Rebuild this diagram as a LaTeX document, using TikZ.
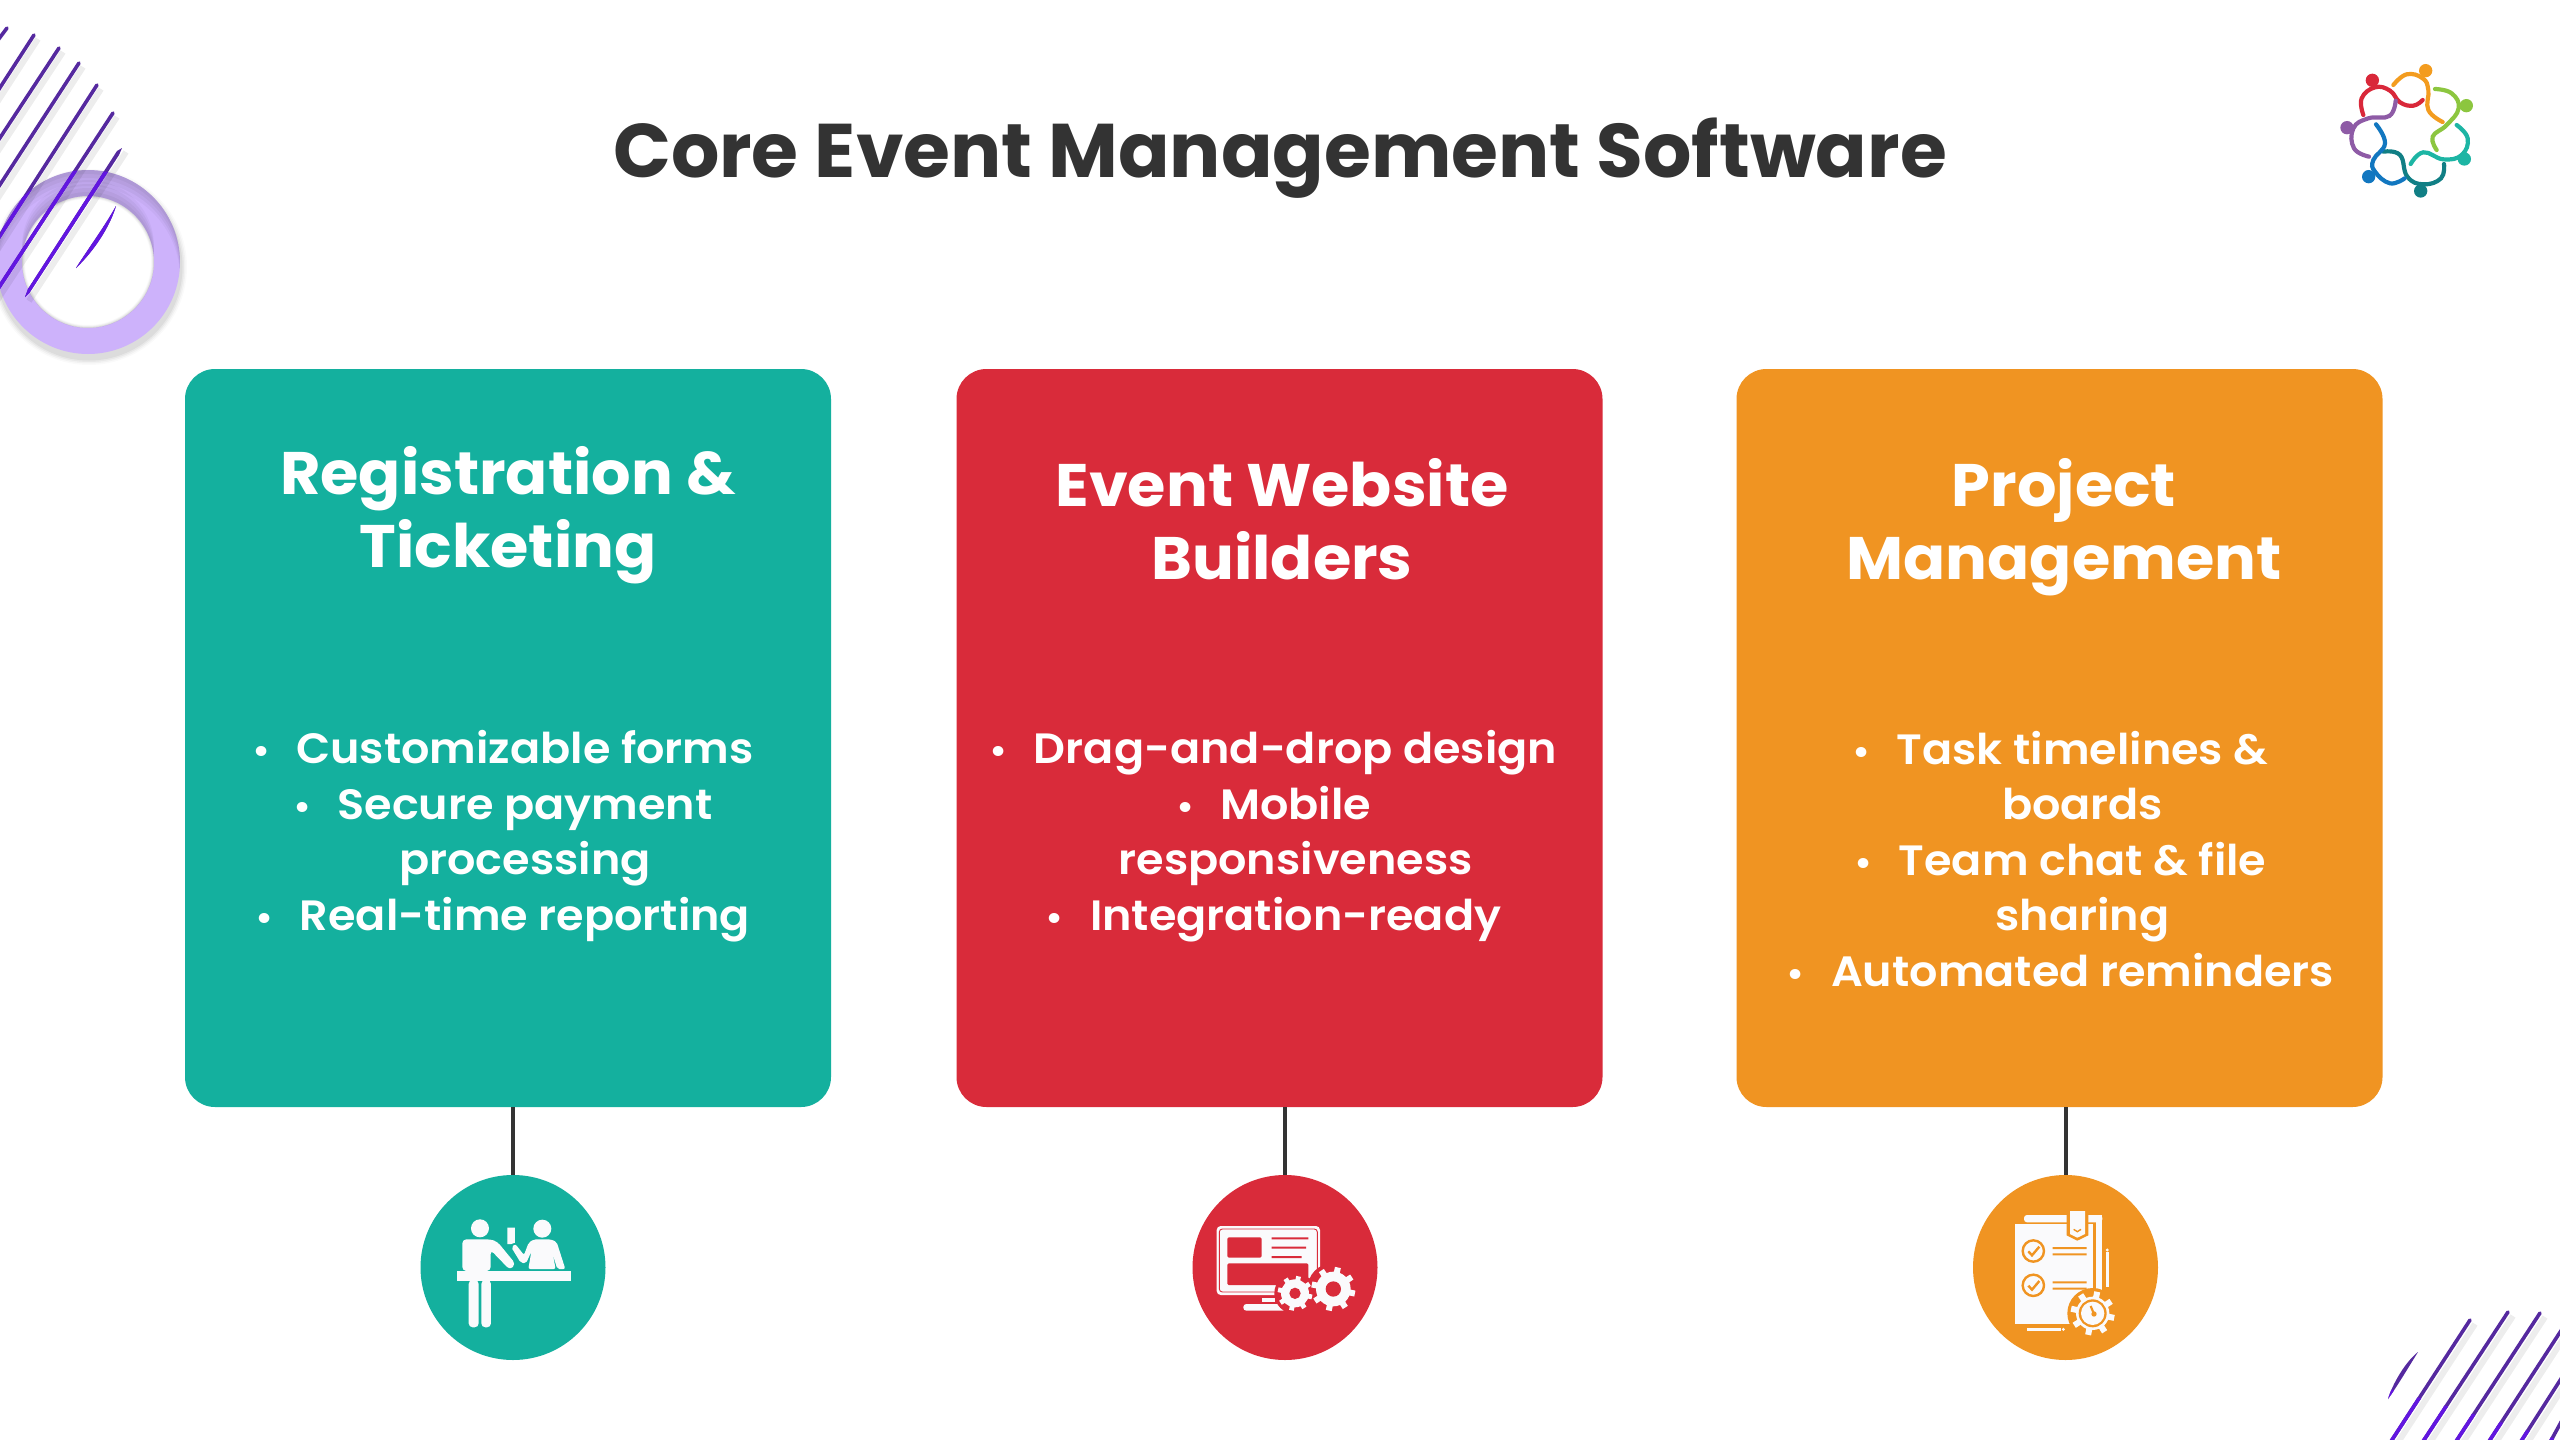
\documentclass[tikz,border=0pt]{standalone}
\usepackage{fontspec}
\setmainfont{Poppins}[FakeStretch=1.035]
\newfontfamily\titlefont{Poppins}
\newfontfamily\bodyfont{Poppins SemiBold}[FakeStretch=1.05]
\usetikzlibrary{calc}
\definecolor{tealc}{HTML}{14B09E}
\definecolor{redc}{HTML}{D92B3A}
\definecolor{orangec}{HTML}{F09422}
\definecolor{inkc}{HTML}{333333}
\definecolor{ringc}{HTML}{CDB2FB}
\definecolor{stripec}{HTML}{55299F}
\definecolor{stripeb}{HTML}{6216E0}
\definecolor{iconw}{HTML}{FAFAFC}
\tikzset{
  cardbox/.style={draw=none,fill=#1,rounded corners=15pt,minimum width=323pt,minimum height=369pt,inner sep=0pt},
  iconball/.style={circle,draw=none,fill=#1,minimum size=92.5pt,inner sep=0pt},
  link/.style={draw=inkc,line width=2pt},
  headtext/.style={text=white,align=center,inner sep=0pt,font=\fontsize{30}{36.7}\selectfont\bfseries},
  bodytext/.style={text=white,align=center,inner sep=0pt,font=\bodyfont\fontsize{21.2}{27.75}\selectfont},
  stripeline/.style={line width=1.8pt,line cap=round},
  stripeshadow/.style={line width=3pt,black,opacity=.07},
  limb/.style={line width=2.1pt,line cap=round},
  curve/.style={smooth,tension=.75},
}
\newcommand{\bul}{\llap{\raisebox{0pt}{\fontsize{18}{18}\selectfont•}\hspace{13pt}}}
\newcommand{\stripesTL}[1]{%
  \draw[stripeline,#1] (7,28)--(-5,44) (34,35)--(-8,100) (59,48)--(-8,150) (79,63)--(-8,197) (97,85)--(-8,248) (113,113)--(-8,298);
  \fill[#1] (122,148) -- (119,155) -- (30,292) -- (25,297) -- (28,289) -- (117,151) -- cycle;
  \fill[#1] (116,206) .. controls (110,226) and (95,250) .. (76,268) .. controls (90,246) and (105,226) .. (116,206) -- cycle;
}
\newcommand{\stripesBR}[1]{%
  \fill[#1] (2418,1352) .. controls (2405,1362) and (2392,1385) .. (2388,1399) .. controls (2398,1385) and (2408,1368) .. (2418,1352) -- cycle;
  \draw[stripeline,#1] (2470,1320)--(2388,1446) (2508,1312)--(2420,1446) (2540,1313)--(2453,1446) (2566,1323)--(2486,1446) (2566,1371)--(2518,1446) (2566,1413)--(2548,1446);
}
% gear: cx cy outer-radius tooth-radius teeth tooth-width colour
\newcommand{\gearshape}[7]{%
  \fill[#7] (#1,#2) circle[radius=#3];
  \foreach \k in {1,...,#5}{
    \pgfmathsetmacro{\ga}{360*\k/#5+12}
    \draw[#7,line width=#6] ({#1+#3*0.8*cos(\ga)},{#2+#3*0.8*sin(\ga)}) -- ({#1+#4*cos(\ga)},{#2+#4*sin(\ga)});
  }
}
\begin{document}
\begin{tikzpicture}[x=.5pt,y=-.5pt]
\useasboundingbox (0,0) rectangle (2560,1440);
\fill[white] (0,0) rectangle (2560,1440);
\clip (0,0) rectangle (2560,1440);

% corner ornament, top left
\foreach \s/\o in {12/.02,9/.03,6/.04,3/.05}{
  \fill[black,opacity=\o,even odd rule] (89,267) circle[radius={92+\s/2}] (88,262) circle[radius={66-\s/4}];
}
\fill[ringc,even odd rule] (88,262) circle[radius=92] (88,262) circle[radius=66];
\begin{scope}[even odd rule]
  \clip (88,262) circle[radius=92] (88,262) circle[radius=66];
  \foreach \s/\o in {4/.04,8/.04,12/.04,16/.03}{
    \fill[black,opacity=\o] (88,262) circle[radius=98] (88,{262+\s}) circle[radius=92];
    \fill[black,opacity=\o] (88,262) circle[radius=66] (88,{262-\s}) circle[radius=66];
  }
\end{scope}
\begin{scope}[shift={(4,4)}]
  \draw[stripeshadow] (34,35)--(-8,100) (59,48)--(-8,150) (79,63)--(-8,197) (97,85)--(-8,248) (113,113)--(-8,298) (122,148)--(25,297);
\end{scope}
\stripesTL{stripec}
\begin{scope}
  \clip (88,262) circle[radius=92];
  \stripesTL{stripeb}
\end{scope}

% corner ornament, bottom right
\begin{scope}[shift={(5,4)}]
  \draw[stripeshadow] (2470,1320)--(2388,1446) (2508,1312)--(2420,1446) (2540,1313)--(2453,1446) (2566,1323)--(2486,1446) (2566,1371)--(2518,1446);
\end{scope}
\stripesBR{stripec}
\begin{scope}
  \clip (2360,1440) -- (2360,1380) -- (2560,1440) -- cycle;
  \stripesBR{stripeb}
\end{scope}

% title
\node[text=inkc,inner sep=0pt,font=\titlefont\fontsize{38}{46}\selectfont\bfseries] (title) at (1280,158) {Core Event Management Software};

% cards
\node[cardbox=tealc] (card1) at (508,738) {};
\node[cardbox=redc] (card2) at (1279.5,738) {};
\node[cardbox=orangec] (card3) at (2059.5,738) {};

\node[headtext] (head1) at (508,515) {Registration \&\\Ticketing};
\node[headtext] (head2) at (1282,519.5) {Event Website\\Builders};
\node[headtext] (head3) at (2064,527.5) {Project\\Management};

\node[bodytext] (body1) at (525,836) {\bul Customizable forms\\\bul Secure payment\\processing\\\bul Real-time reporting};
\node[bodytext] (body2) at (1295.6,836) {\bul Drag-and-drop design\\\bul Mobile\\responsiveness\\\bul Integration-ready};
\node[bodytext] (body3) at (2082.6,859) {\bul Task timelines \&\\boards\\\bul Team chat \& file\\sharing\\\bul Automated reminders};

% icon balls and links
\node[iconball=tealc] (ball1) at (513,1267.5) {};
\node[iconball=redc] (ball2) at (1285,1267.5) {};
\node[iconball=orangec] (ball3) at (2065.5,1267.5) {};
\draw[link] (ball1.north) -- (ball1.north |- card1.south);
\draw[link] (ball2.north) -- (ball2.north |- card2.south);
\draw[link] (ball3.north) -- (ball3.north |- card3.south);

% icon 1: ticket desk
\begin{scope}[shift={(400,1100)},x=.5pt/3,y=-.5pt/3]
  \fill[iconw] (240,385) circle[radius=27] (427,386) circle[radius=27];
  \fill[iconw] (170,513) rectangle (513,543);
  \fill[iconw,rounded corners=2pt] (187,513) -- (187,418) -- (272,418) -- (292,425) -- (347,492) -- (330,510) -- (272,450) -- (272,513) -- cycle;
  \fill[iconw,rounded corners=2pt] (206,540) rectangle (236,682);
  \fill[iconw,rounded corners=2pt] (244,540) rectangle (273,682);
  \fill[iconw] (322,383) -- (345,383) -- (345,428) -- (334,432) -- (322,432) -- cycle;
  \fill[iconw,rounded corners=1pt] (385,507) -- (394,455) -- (378,490) -- (362,488) -- (334,442) -- (346,432) -- (372,465) -- (386,428) -- (402,418) -- (452,418) -- (470,426) -- (496,507) -- (472,507) -- (458,462) -- (467,507) -- cycle;
\end{scope}

% icon 2: web builder
\begin{scope}[shift={(1170,1160)},x=.5pt/3,y=-.5pt/3]
  \fill[iconw,rounded corners=2pt] (140,198) rectangle (450,405);
  \draw[redc,line width=.45pt,rounded corners=1.5pt] (148,207) rectangle (442,396);
  \fill[redc,rounded corners=.7pt] (172,232) rectangle (275,293);
  \fill[redc] (305,232) rectangle (415,238) (305,260) rectangle (408,266) (305,288) rectangle (395,294);
  \fill[redc,rounded corners=.7pt] (172,310) rectangle (415,375);
  \fill[iconw] (275,415) rectangle (315,425);
  \fill[iconw,rounded corners=1.5pt] (220,432) rectangle (355,452);
  \fill[redc] (375,400) circle[radius=62] (490,387) circle[radius=78];
  \gearshape{375}{400}{42}{52}{8}{2.4pt}{iconw}
  \gearshape{490}{387}{52}{66}{8}{3pt}{iconw}
  \fill[redc] (375,400) circle[radius=17] (490,387) circle[radius=23];
\end{scope}

% icon 3: project checklist
\begin{scope}[shift={(1950,1160)},x=.5pt/3,y=-.5pt/3]
  \fill[iconw,rounded corners=1.5pt] (222,165) rectangle (457,187);
  \fill[iconw] (437,165) rectangle (457,410);
  \fill[iconw] (196,192) rectangle (430,492);
  \fill[orangec] (350,150) -- (415,150) -- (415,226) -- (382,242) -- (350,226) -- cycle;
  \fill[iconw] (360,153) -- (405,153) -- (405,222) -- (382,233) -- (360,222) -- cycle;
  \draw[orangec,line width=.7pt] (371,208) -- (382,215) -- (393,208);
  \foreach \cy in {273,376}{
    \draw[orangec,line width=1.2pt] (250,\cy) circle[radius=32];
    \draw[orangec,line width=1.2pt] (235,{\cy+1}) -- (246,{\cy+13}) -- (268,{\cy-13});
    \fill[orangec] (308,{\cy-12}) rectangle (410,{\cy-6}) (308,{\cy+7}) rectangle (410,{\cy+13});
  }
  \fill[iconw] (467,275) rectangle (476,380);
  \fill[iconw] (471.5,270) circle[radius=5];
  \fill[iconw] (230,505) rectangle (332,512);
  \fill[iconw] (340,508) circle[radius=5];
  \fill[orangec] (428,460) circle[radius=76];
  \gearshape{428}{460}{50}{66}{8}{3pt}{iconw}
  \fill[orangec] (428,460) circle[radius=42];
  \fill[iconw] (428,460) circle[radius=35];
  \fill[orangec] (432,462) circle[radius=8];
  \draw[orangec,line width=1.1pt] (432,462) -- (422,438);
\end{scope}

% logo
\begin{scope}[shift={(2300,40)},x=.5pt/3,y=-.5pt/3]
  \definecolor{lgred}{HTML}{D9283A}\definecolor{lgorange}{HTML}{F39C1F}\definecolor{lglime}{HTML}{8CC63F}
  \definecolor{lgteal}{HTML}{1DB5A4}\definecolor{lgdark}{HTML}{117F85}\definecolor{lgblue}{HTML}{1277C0}\definecolor{lgpurple}{HTML}{8E5BA6}
  \draw[limb,lgred] plot[curve] coordinates {(190,225) (185,175) (225,142) (270,152) (300,187) (340,197) (368,180)};
  \fill[lgred] (217,121) circle[radius=20];
  \draw[limb,lgorange] plot[curve] coordinates {(280,135) (320,103) (368,115) (385,150) (385,210) (428,246)};
  \fill[lgorange] (377,92) circle[radius=20];
  \draw[limb,lglime] plot[curve] coordinates {(405,147) (455,160) (476,205) (440,255) (398,290) (410,330)};
  \fill[lglime] (499,197) circle[radius=20];
  \draw[limb,lgteal] plot[curve] coordinates {(470,255) (503,295) (485,345) (430,358) (370,337) (332,372)};
  \fill[lgteal] (493,357) circle[radius=20];
  \draw[limb,lgdark] plot[curve] coordinates {(432,372) (423,415) (370,433) (322,410) (300,345) (250,335)};
  \fill[lgdark] (362,453) circle[radius=20];
  \draw[limb,lgblue] plot[curve] coordinates {(314,415) (270,430) (225,395) (220,360) (255,310) (228,253)};
  \fill[lgblue] (206,410) circle[radius=20];
  \draw[limb,lgpurple] plot[curve] coordinates {(207,350) (162,325) (160,265) (205,235) (268,228) (287,182)};
  \fill[lgpurple] (141,263) circle[radius=20];
\end{scope}
\end{tikzpicture}
\end{document}
